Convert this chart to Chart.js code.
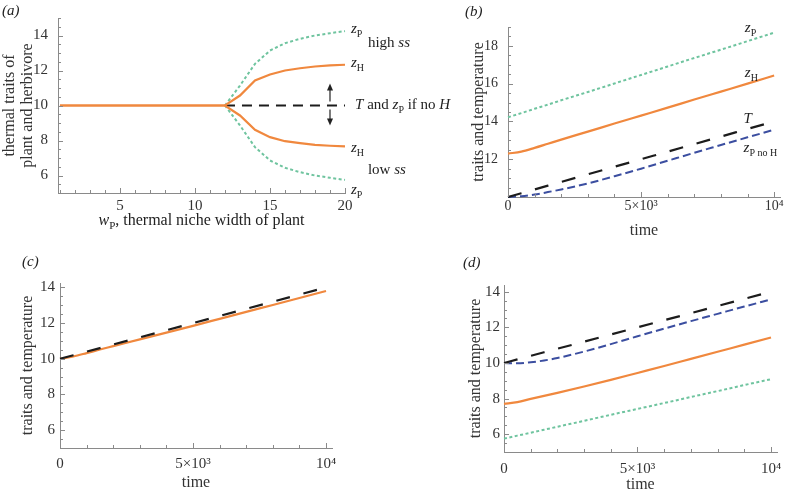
<!DOCTYPE html>
<html>
<head>
<meta charset="utf-8">
<script src="https://cdn.jsdelivr.net/npm/chart.js@4.4.0/dist/chart.umd.min.js"></script>
<style>
  body { margin: 0; background: #fff; }
  #fig { position: relative; width: 785px; height: 495px; overflow: hidden; }
  #fig canvas { position: absolute; }
  .tag { position: absolute; font-family: 'Liberation Serif', serif; font-style: italic; font-size: 15px; line-height: 15px; color: #222; }
</style>
</head>
<body>
<div id="fig">
  <canvas id="panelA" width="460" height="235" style="left:0;top:0"></canvas>
  <canvas id="panelB" width="345" height="245" style="left:440px;top:0"></canvas>
  <canvas id="panelC" width="360" height="240" style="left:0;top:255px"></canvas>
  <canvas id="panelD" width="345" height="240" style="left:440px;top:255px"></canvas>
  <div class="tag" style="left:2px;top:3px">(a)</div>
  <div class="tag" style="left:465px;top:4px">(b)</div>
  <div class="tag" style="left:22px;top:254px">(c)</div>
  <div class="tag" style="left:463px;top:255px">(d)</div>
</div>
<script>
// (a) traits against thermal niche width of plant
const nicheWidth = [1, 2, 3, 4, 5, 6, 7, 8, 9, 10, 11, 12, 13, 14, 15, 16, 17, 18, 19, 20];
const highPlant = [null, null, null, null, null, null, null, null, null, null, null, 10, 11.14, 12.38, 13.14, 13.56, 13.81, 14.0, 14.13, 14.25];
const highHerb = [10, 10, 10, 10, 10, 10, 10, 10, 10, 10, 10, 10, 10.57, 11.43, 11.77, 12.0, 12.13, 12.23, 12.29, 12.33];
const lowHerb = [10, 10, 10, 10, 10, 10, 10, 10, 10, 10, 10, 10, 9.43, 8.61, 8.19, 7.96, 7.85, 7.75, 7.70, 7.66];
const lowPlant = [null, null, null, null, null, null, null, null, null, null, null, 10, 8.86, 7.62, 6.86, 6.44, 6.19, 6.0, 5.87, 5.75];
const tempNoH = [null, null, null, null, null, null, null, null, null, null, null, 10, 10, 10, 10, 10, 10, 10, 10, 10];

// (b)-(d) traits through time
const timeSteps = [0, 500, 1000, 1500, 2000, 3000, 4000, 5000, 6000, 7000, 8000, 9000, 10000];
const temperature = [10, 10.2, 10.4, 10.6, 10.8, 11.2, 11.6, 12, 12.4, 12.8, 13.2, 13.6, 14];
const bPlant = [14.22, 14.44, 14.67, 14.89, 15.12, 15.56, 16.01, 16.46, 16.91, 17.36, 17.8, 18.25, 18.7];
const bHerb = [12.3, 12.4, 12.6, 12.82, 13.04, 13.46, 13.89, 14.31, 14.73, 15.16, 15.58, 16.0, 16.43];
const bPlantNoH = [10, 10.04, 10.13, 10.26, 10.4, 10.72, 11.1, 11.5, 11.92, 12.34, 12.75, 13.16, 13.56];
const cHerb = [10, 10.13, 10.32, 10.52, 10.71, 11.09, 11.47, 11.85, 12.24, 12.63, 13.02, 13.41, 13.8];
const dPlant = [5.75, 5.92, 6.08, 6.25, 6.42, 6.75, 7.09, 7.42, 7.75, 8.09, 8.42, 8.76, 9.09];
const dHerb = [7.7, 7.8, 7.98, 8.15, 8.32, 8.68, 9.05, 9.44, 9.83, 10.23, 10.63, 11.03, 11.43];
const dPlantNoH = [10, 9.98, 10.04, 10.14, 10.28, 10.64, 11.06, 11.5, 11.93, 12.35, 12.76, 13.17, 13.57];

// tick values and labels
const nicheTicks = [5, 10, 15, 20];
const timeTicks = [0, 5000, 10000];
const timeTickLabels = ['0', '5×10³', '10⁴'];
const traitTicksA = [6, 8, 10, 12, 14];
const traitTicksB = [12, 14, 16, 18];
const traitTicksCD = [6, 8, 10, 12, 14];

const serif = "'Liberation Serif', 'Times New Roman', serif";
const axisGray = '#8a8a8a';
const textColor = '#333';
const titleFont = { family: serif, size: 16, lineHeight: 1.1 };

const colors = { plant: '#6fc49f', herb: '#f0883e', noH: '#3b4ea0', temp: '#1c1c1c' };

function range(a, b, step) {
  const out = [];
  for (let v = a; v <= b + 1e-9; v += step) out.push(+v.toFixed(3));
  return out;
}

function pts(xs, ys) {
  return xs.map((x, i) => ({ x: x, y: ys[i] })).filter(p => p.y !== null);
}

function line(xs, ys, kind, extra) {
  const base = {
    plant: { borderColor: colors.plant, borderWidth: 2, borderDash: [3, 2.5] },
    herb: { borderColor: colors.herb, borderWidth: 2.2, borderDash: [] },
    noH: { borderColor: colors.noH, borderWidth: 2, borderDash: [8, 4] },
    temp: { borderColor: colors.temp, borderWidth: 2.2, borderDash: [14, 14] }
  }[kind];
  return Object.assign({ data: pts(xs, ys), pointRadius: 0, fill: false, clip: false, borderCapStyle: 'butt' }, base, extra || {});
}

// inward minor/major ticks like the original axes
const axisTicks = {
  id: 'axisTicks',
  afterDatasetsDraw(chart, args, opts) {
    const { ctx, chartArea } = chart;
    const xs = chart.scales.x, ys = chart.scales.y;
    ctx.save();
    ctx.strokeStyle = axisGray;
    ctx.lineWidth = 1;
    ctx.beginPath();
    opts.xMinor.forEach(v => {
      const px = Math.round(xs.getPixelForValue(v)) + 0.5;
      const len = opts.xMajor.includes(v) ? 5 : 3;
      ctx.moveTo(px, chartArea.bottom);
      ctx.lineTo(px, chartArea.bottom - len);
    });
    opts.yMinor.forEach(v => {
      const py = Math.round(ys.getPixelForValue(v)) + 0.5;
      const len = opts.yMajor.includes(v) ? 5 : 3;
      ctx.moveTo(chartArea.left, py);
      ctx.lineTo(chartArea.left + len, py);
    });
    ctx.stroke();
    ctx.restore();
  }
};

function drawRich(ctx, parts, x, y, size, align) {
  const fontFor = p => (p.i ? 'italic ' : '') + (p.s ? Math.round(size * 0.68) : size) + 'px ' + serif;
  let w = 0;
  parts.forEach(p => { ctx.font = fontFor(p); w += ctx.measureText(p.t).width; });
  let cx = align === 'center' ? x - w / 2 : x;
  parts.forEach(p => {
    ctx.font = fontFor(p);
    ctx.fillText(p.t, cx, y + (p.s ? size * 0.28 : 0));
    cx += ctx.measureText(p.t).width;
  });
}

// curve labels, arrows and rich axis titles
const notes = {
  id: 'notes',
  afterDraw(chart, args, opts) {
    const { ctx, chartArea } = chart;
    const xs = chart.scales.x, ys = chart.scales.y;
    ctx.save();
    ctx.fillStyle = '#222';
    ctx.textAlign = 'left';
    ctx.textBaseline = 'alphabetic';
    (opts.labels || []).forEach(l => {
      drawRich(ctx, l.parts, xs.getPixelForValue(l.x), ys.getPixelForValue(l.y), 15, 'left');
    });
    if (opts.xTitle) {
      drawRich(ctx, opts.xTitle, (chartArea.left + chartArea.right) / 2, chartArea.bottom + opts.xTitleGap, 16, 'center');
    }
    ctx.strokeStyle = '#222';
    ctx.lineWidth = 1.2;
    (opts.arrows || []).forEach(a => {
      const px = xs.getPixelForValue(a.x);
      const y1 = ys.getPixelForValue(a.from), y2 = ys.getPixelForValue(a.to);
      const dir = y2 < y1 ? -1 : 1;
      ctx.beginPath();
      ctx.moveTo(px, y1);
      ctx.lineTo(px, y2 - dir * 5);
      ctx.stroke();
      ctx.beginPath();
      ctx.moveTo(px, y2);
      ctx.lineTo(px - 3, y2 - dir * 7);
      ctx.lineTo(px + 3, y2 - dir * 7);
      ctx.closePath();
      ctx.fill();
    });
    ctx.restore();
  }
};

function panel(id, o) {
  const tickFont = { family: serif, size: o.tickSize };
  return new Chart(document.getElementById(id), {
    type: 'line',
    data: { datasets: o.datasets },
    options: {
      responsive: false,
      animation: false,
      devicePixelRatio: 1,
      layout: { padding: o.pad },
      elements: { point: { radius: 0 } },
      plugins: {
        legend: { display: false },
        tooltip: { enabled: false },
        axisTicks: o.ticks,
        notes: o.notes || {}
      },
      scales: {
        x: {
          type: 'linear',
          min: o.xMin,
          max: o.xMax,
          grid: { display: false, drawTicks: false },
          border: { color: axisGray, width: 1 },
          ticks: {
            font: tickFont, color: textColor, padding: o.xPad, maxRotation: 0, autoSkip: false,
            callback: o.xLabel
          },
          afterBuildTicks: s => { s.ticks = o.xMajor.map(v => ({ value: v })); },
          afterFit: s => { s.height = o.xHeight; s.paddingLeft = 0; s.paddingRight = 0; },
          title: o.xTitle
            ? { display: true, text: o.xTitle, font: titleFont, color: textColor, padding: { top: 0, bottom: 1 } }
            : { display: false }
        },
        y: {
          type: 'linear',
          min: o.yMin,
          max: o.yMax,
          grid: { display: false, drawTicks: false },
          border: { color: axisGray, width: 1 },
          ticks: { font: tickFont, color: textColor, padding: o.yPad },
          afterBuildTicks: s => { s.ticks = o.yMajor.map(v => ({ value: v })); },
          afterFit: s => { s.width = o.yWidth; s.paddingTop = 0; s.paddingBottom = 0; },
          title: { display: true, text: o.yTitle, font: titleFont, color: textColor, padding: { top: 1, bottom: 0 } }
        }
      }
    },
    plugins: [axisTicks, notes]
  });
}

const zP = [{ t: 'z', i: 1 }, { t: 'P', s: 1 }];
const zH = [{ t: 'z', i: 1 }, { t: 'H', s: 1 }];

panel('panelA', {
  datasets: [
    line(nicheWidth, highHerb, 'herb'),
    line(nicheWidth, lowHerb, 'herb'),
    line(nicheWidth, tempNoH, 'temp', { borderDash: [10, 7], borderWidth: 1.8 }),
    line(nicheWidth, highPlant, 'plant'),
    line(nicheWidth, lowPlant, 'plant')
  ],
  pad: { left: 0, top: 18, right: 115, bottom: 0 },
  tickSize: 15,
  xMin: 0.87, xMax: 20, xMajor: nicheTicks, xPad: 4, xHeight: 42,
  xLabel: v => String(v),
  yMin: 5, yMax: 15, yMajor: traitTicksA, yWidth: 58, yPad: 10,
  yTitle: ['thermal traits of', 'plant and herbivore'],
  ticks: { xMinor: range(1, 20, 1), xMajor: nicheTicks, yMinor: range(5.5, 15, 0.5), yMajor: traitTicksA },
  notes: {
    labels: [
      { x: 20.4, y: 14.15, parts: zP },
      { x: 21.53, y: 13.37, parts: [{ t: 'high ' }, { t: 'ss', i: 1 }] },
      { x: 20.4, y: 12.19, parts: zH },
      { x: 20.67, y: 9.81, parts: [{ t: 'T', i: 1 }, { t: ' and ' }, { t: 'z', i: 1 }, { t: 'P', s: 1 }, { t: ' if no ' }, { t: 'H', i: 1 }] },
      { x: 20.4, y: 7.33, parts: zH },
      { x: 21.53, y: 6.11, parts: [{ t: 'low ' }, { t: 'ss', i: 1 }] },
      { x: 20.4, y: 4.95, parts: zP }
    ],
    arrows: [
      { x: 19, from: 10.23, to: 11.26 },
      { x: 19, from: 9.77, to: 8.86 }
    ],
    xTitle: [{ t: 'w', i: 1 }, { t: 'P', s: 1 }, { t: ', thermal niche width of plant' }],
    xTitleGap: 32
  }
});

panel('panelB', {
  datasets: [
    line(timeSteps, temperature, 'temp', { cubicInterpolationMode: 'monotone' }),
    line(timeSteps, bPlantNoH, 'noH', { cubicInterpolationMode: 'monotone' }),
    line(timeSteps, bHerb, 'herb', { cubicInterpolationMode: 'monotone' }),
    line(timeSteps, bPlant, 'plant', { cubicInterpolationMode: 'monotone' })
  ],
  pad: { left: 29, top: 27, right: 5, bottom: 4 },
  tickSize: 14,
  xMin: 0, xMax: 10220, xMajor: timeTicks, xPad: 1, xHeight: 44,
  xLabel: (v, i) => timeTickLabels[i],
  xTitle: 'time',
  yMin: 10, yMax: 19, yMajor: traitTicksB, yWidth: 39, yPad: 10,
  yTitle: 'traits and temperature',
  ticks: { xMinor: range(0, 10000, 1000), xMajor: timeTicks, yMinor: range(10.5, 19, 0.5), yMajor: traitTicksB },
  notes: {
    labels: [
      { x: 8900, y: 18.73, parts: zP },
      { x: 8900, y: 16.36, parts: zH },
      { x: 8850, y: 13.93, parts: [{ t: 'T', i: 1 }] },
      { x: 8850, y: 12.39, parts: [{ t: 'z', i: 1 }, { t: 'P no H', s: 1 }] }
    ]
  }
});

panel('panelC', {
  datasets: [
    line(timeSteps, temperature, 'temp', { cubicInterpolationMode: 'monotone' }),
    line(timeSteps, cHerb, 'herb', { cubicInterpolationMode: 'monotone' })
  ],
  pad: { left: 18, top: 28, right: 28, bottom: 2 },
  tickSize: 15,
  xMin: 0, xMax: 10225, xMajor: timeTicks, xPad: 7, xHeight: 45,
  xLabel: (v, i) => timeTickLabels[i],
  xTitle: 'time',
  yMin: 5, yMax: 14.25, yMajor: traitTicksCD, yWidth: 42, yPad: 5,
  yTitle: 'traits and temperature',
  ticks: { xMinor: range(0, 10000, 1000), xMajor: timeTicks, yMinor: range(5.5, 14, 0.5), yMajor: traitTicksCD }
});

panel('panelD', {
  datasets: [
    line(timeSteps, temperature, 'temp', { cubicInterpolationMode: 'monotone' }),
    line(timeSteps, dPlantNoH, 'noH', { cubicInterpolationMode: 'monotone' }),
    line(timeSteps, dHerb, 'herb', { cubicInterpolationMode: 'monotone' }),
    line(timeSteps, dPlant, 'plant', { cubicInterpolationMode: 'monotone' })
  ],
  pad: { left: 26, top: 30, right: 8, bottom: 0 },
  tickSize: 15,
  xMin: 0, xMax: 10225, xMajor: timeTicks, xPad: 8, xHeight: 43,
  xLabel: (v, i) => timeTickLabels[i],
  xTitle: 'time',
  yMin: 5, yMax: 14.38, yMajor: traitTicksCD, yWidth: 38, yPad: 4,
  yTitle: 'traits and temperature',
  ticks: { xMinor: range(0, 10000, 1000), xMajor: timeTicks, yMinor: range(5.5, 14, 0.5), yMajor: traitTicksCD }
});
</script>
</body>
</html>
